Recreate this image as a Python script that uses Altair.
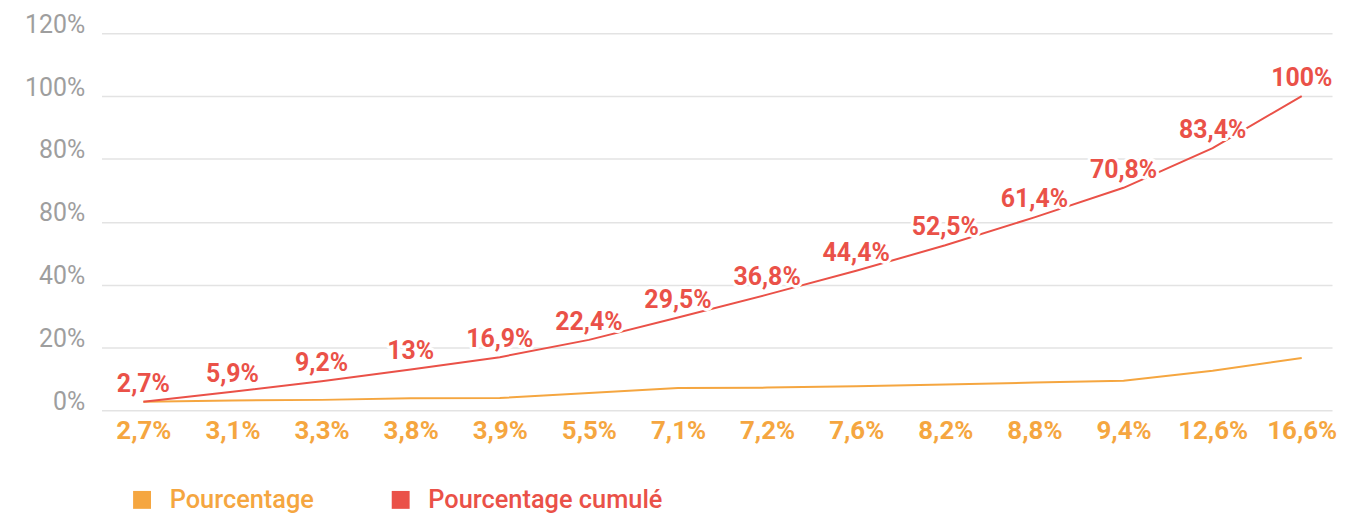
import json
import altair as alt
import pandas as pd

# ---- data ----
x_labels = ['2,7%', '3,1%', '3,3%', '3,8%', '3,9%', '5,5%', '7,1%',
            '7,2%', '7,6%', '8,2%', '8,8%', '9,4%', '12,6%', '16,6%']
pourcentage = [2.7, 3.1, 3.3, 3.8, 3.9, 5.5, 7.1, 7.2, 7.6, 8.2, 8.8, 9.4, 12.6, 16.6]
cumule = [2.7, 5.9, 9.2, 13, 16.9, 22.4, 29.5, 36.8, 44.4, 52.5, 61.4, 70.8, 83.4, 100]
cumule_labels = ['2,7%', '5,9%', '9,2%', '13%', '16,9%', '22,4%', '29,5%',
                 '36,8%', '44,4%', '52,5%', '61,4%', '70,8%', '83,4%', '100%']
y_ticks = [0, 20, 40, 60, 80, 100, 120]
y_tick_labels = ['0%', '20%', '40%', '80%', '80%', '100%', '120%']
series = ['Pourcentage', 'Pourcentage cumulé']
colors = ['#F5A640', '#EA5148']

rows = []
for i in range(len(x_labels)):
    rows.append({'idx': i, 'value': pourcentage[i], 'serie': series[0], 'label': x_labels[i]})
    rows.append({'idx': i, 'value': cumule[i], 'serie': series[1], 'label': cumule_labels[i]})
df = pd.DataFrame(rows)

FONT = 'Roboto'

x_enc = alt.X('idx:Q',
              scale=alt.Scale(domain=[-0.47, 13.34], nice=False, zero=False),
              axis=alt.Axis(values=list(range(len(x_labels))),
                            labelExpr=f"{json.dumps(x_labels)}[datum.value]",
                            title=None, grid=False, domain=False, ticks=False,
                            labelColor=colors[0], labelFontWeight='bold',
                            labelFontSize=26, labelFont=FONT, labelPadding=7,
                            labelBaseline='top', labelFlush=False))
y_enc = alt.Y('value:Q',
              scale=alt.Scale(domain=[0, 120], nice=False),
              axis=alt.Axis(values=y_ticks,
                            labelExpr=f"{json.dumps(y_tick_labels)}[datum.value / 20]",
                            title=None, domain=False, ticks=False,
                            grid=True, gridColor='#E3E3E3', gridWidth=1.5,
                            labelColor='#9E9E9E', labelFontSize=25, labelFont=FONT,
                            labelPadding=17, labelBaseline='alphabetic',
                            labelOffset=-1))

color_enc = alt.Color('serie:N',
                      scale=alt.Scale(domain=series, range=colors),
                      legend=alt.Legend(orient='none', legendX=28, legendY=456,
                                        direction='horizontal', title=None,
                                        symbolType='square', symbolSize=81,
                                        symbolStrokeWidth=9, labelFontSize=25.5,
                                        labelFont=FONT, labelFontWeight=500,
                                        labelOffset=15, labelLimit=400,
                                        columnPadding=64,
                                        labelColor=alt.ExprRef(
                                            f"datum.label == '{series[0]}' ? '{colors[0]}' : '{colors[1]}'")))

lines = alt.Chart(df).mark_line(strokeWidth=2).encode(
    x=x_enc, y=y_enc, color=color_enc,
    order='idx:Q'
)

cum_df = df[df['serie'] == series[1]]

halo = alt.Chart(cum_df).mark_text(
    font=FONT, fontSize=25, fontWeight='bold', baseline='alphabetic',
    dy=-10, stroke='white', strokeWidth=6, fill='white', strokeJoin='round'
).encode(x='idx:Q', y='value:Q', text='label:N')

labels = alt.Chart(cum_df).mark_text(
    font=FONT, fontSize=25, fontWeight='bold', baseline='alphabetic',
    dy=-10, color=colors[1]
).encode(x='idx:Q', y='value:Q', text='label:N')

chart = alt.layer(lines, halo, labels).properties(
    width=1237, height=379,
    padding={'left': 16, 'top': 3, 'right': 0, 'bottom': 0}
).configure(background='white').configure_view(stroke=None)

chart.save('out.html', embed_options={'renderer': 'svg', 'actions': False})
